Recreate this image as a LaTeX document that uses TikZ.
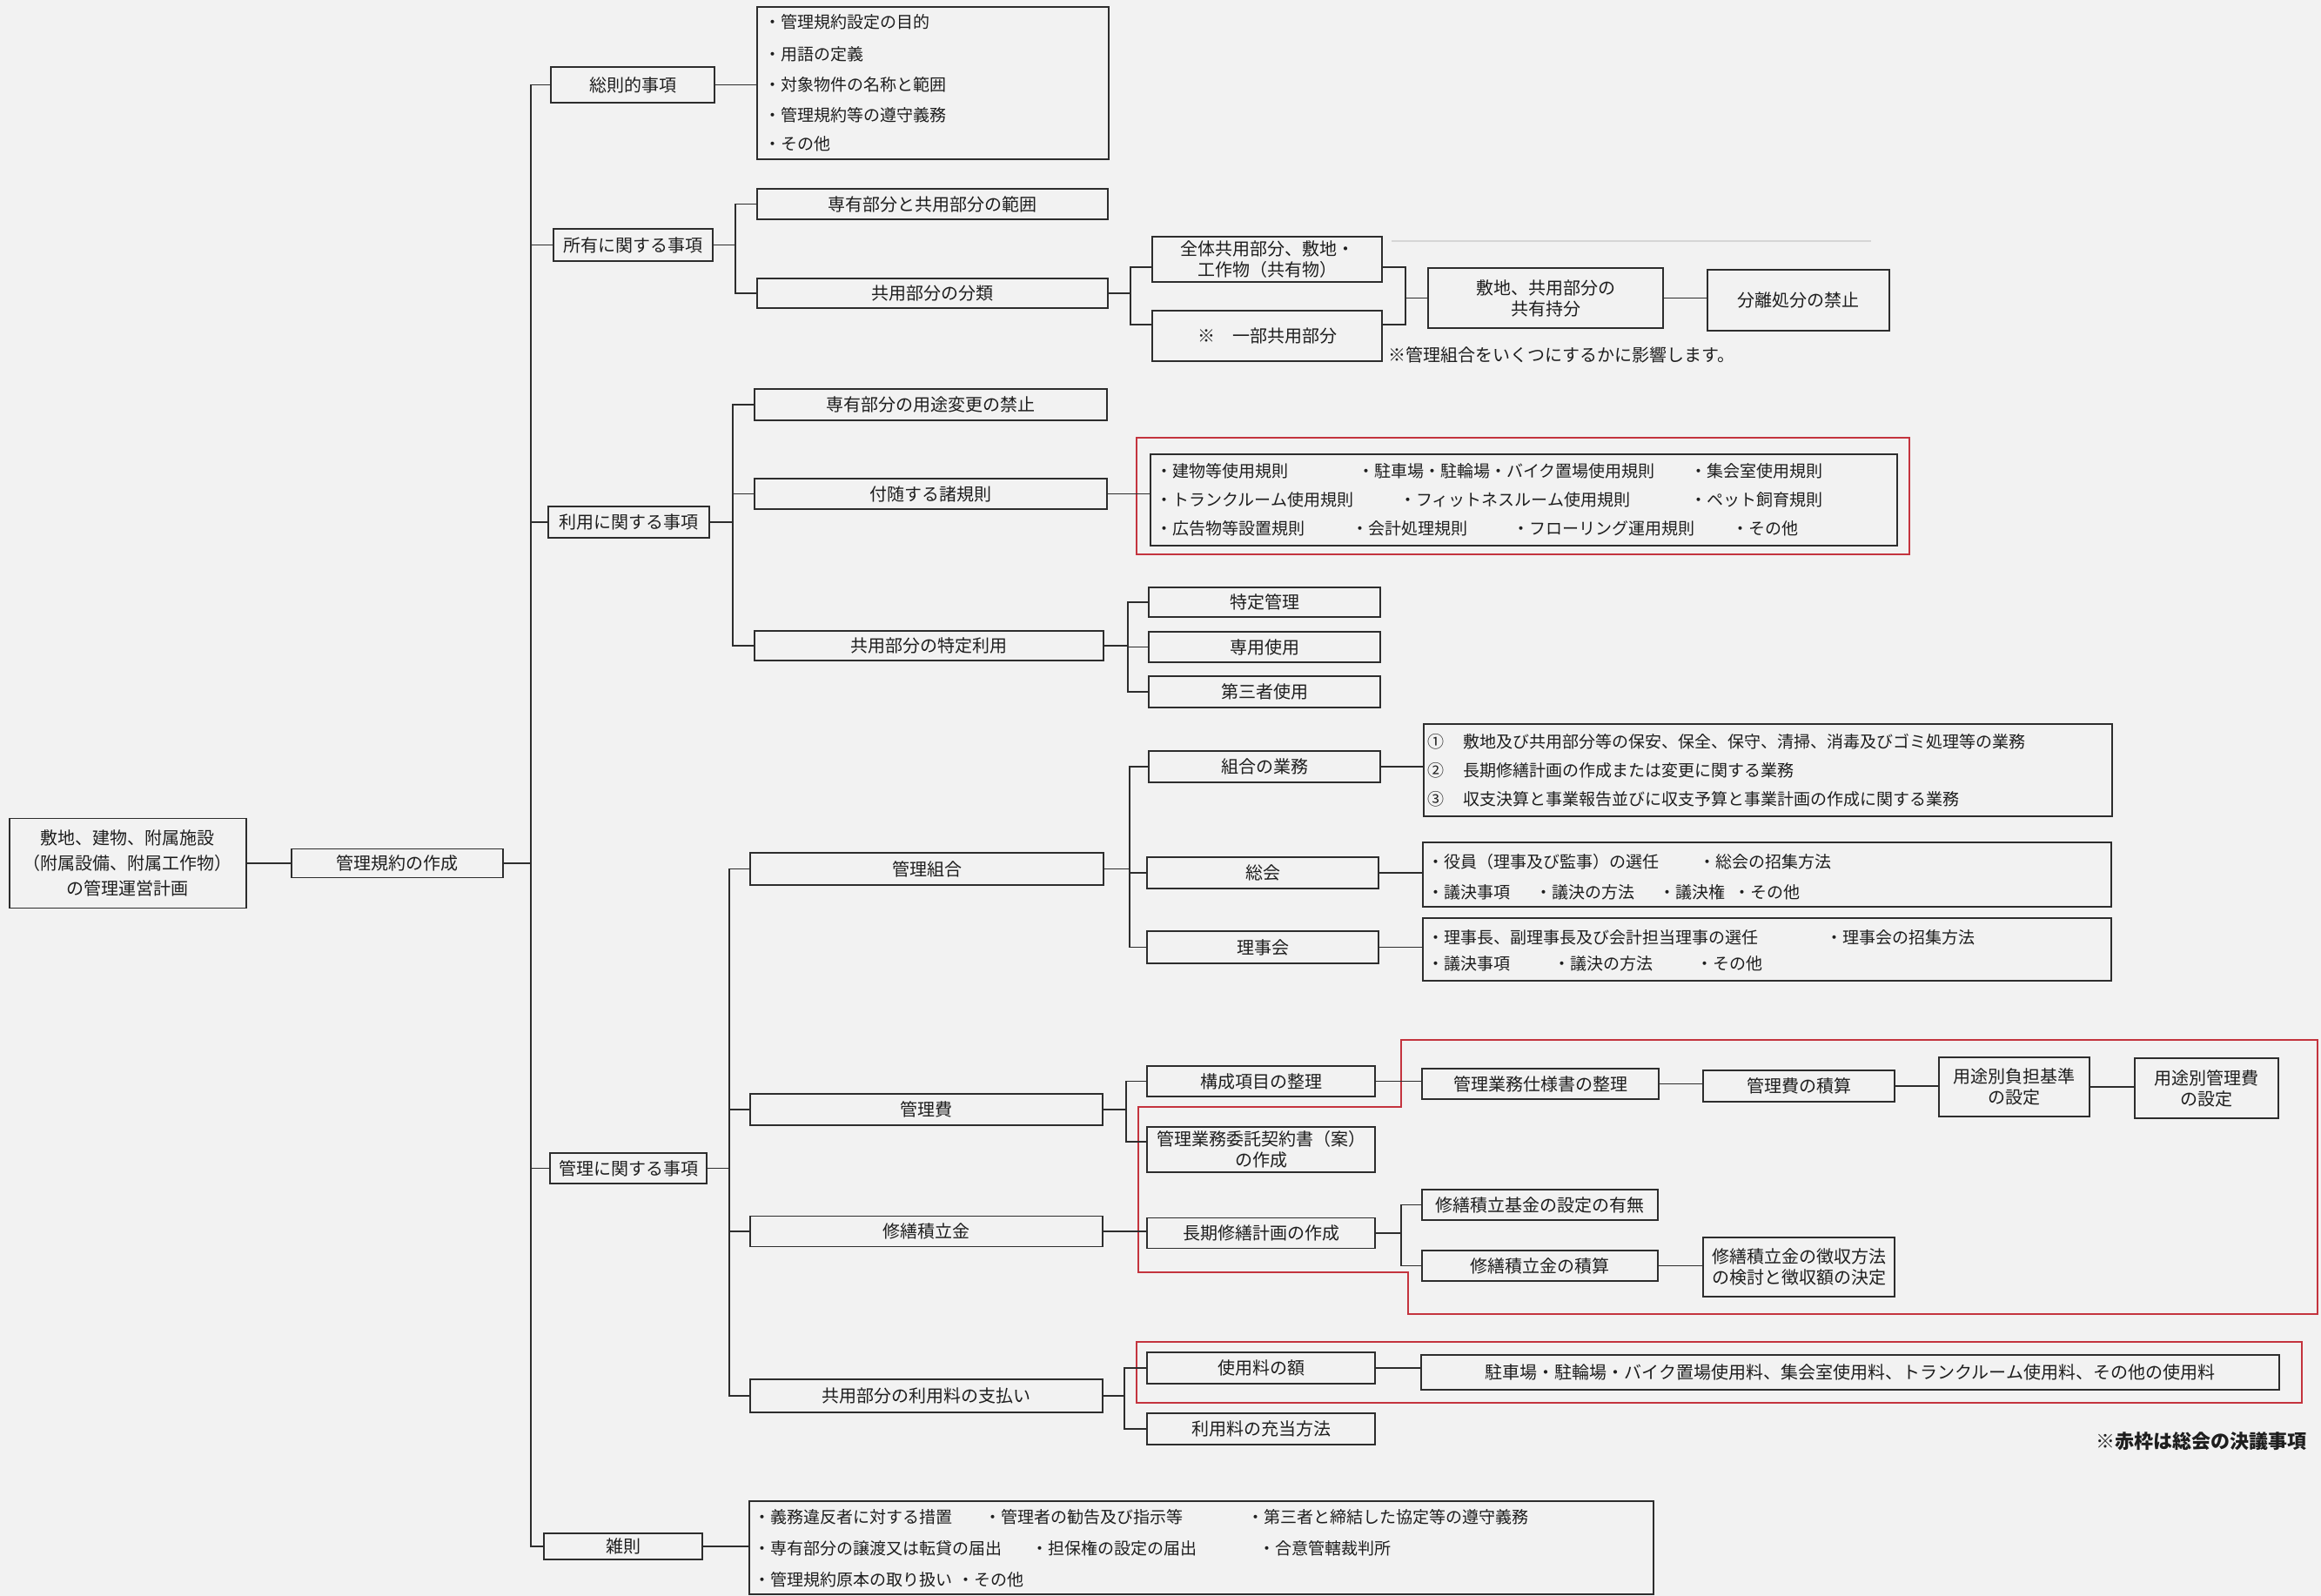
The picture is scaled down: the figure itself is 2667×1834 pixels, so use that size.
\documentclass[tikz,border=0pt]{standalone}
\usepackage{fontspec}
\setmainfont{Noto Sans CJK JP}
\definecolor{bgc}{RGB}{242,242,242}
\definecolor{ink}{RGB}{45,45,45}
\definecolor{txt}{RGB}{30,30,30}
\definecolor{redc}{RGB}{196,52,62}
\definecolor{faint}{RGB}{214,214,214}
\newcommand\lblfont{\fontsize{20pt}{24pt}\selectfont}
\newcommand\lstfont{\fontsize{19pt}{23pt}\selectfont}
\newcommand\rootfont{\fontsize{20pt}{29pt}\selectfont}
\tikzset{
  bx/.style={draw=ink, line width=1.8pt, inner sep=1pt, align=center, font=\lblfont, text=txt},
  bxa/.style={bx, line width=2.6pt},
  lbox/.style={draw=ink, line width=1.8pt, inner sep=0pt},
  li/.style={anchor=west, inner sep=0pt, font=\lstfont, text=txt},
  cn/.style={draw=ink, line width=1.6pt},
  redf/.style={draw=redc, line width=2pt},
  note/.style={inner sep=0pt, text=txt},
}
\begin{document}
\begin{tikzpicture}[x=1pt,y=-1pt]
\fill[bgc] (0,0) rectangle (2667,1834);
\useasboundingbox (0,0) rectangle (2667,1834);

% branch lines of the tree
\coordinate (t0) at (610,0);
\coordinate (b2) at (845,0);
\coordinate (b3) at (1299,0);
\coordinate (b4) at (1615,0);
\coordinate (b5) at (842,0);
\coordinate (b6) at (1296,0);
\coordinate (b7) at (838,0);
\coordinate (b8) at (1298,0);
\coordinate (b9) at (1294,0);
\coordinate (b10) at (1610,0);
\coordinate (b11) at (1292,0);

% faint rule above the common-part boxes
\draw[faint, line width=1.2pt] (1599,277) -- (2150,277);

% red frames: items decided by the general meeting
\draw[redf] (1306,503) rectangle (2194,637);
\draw[redf] (1610,1195) -- (2663,1195) -- (2663,1510) -- (1618,1510) -- (1618,1462)
  -- (1308,1462) -- (1308,1272) -- (1610,1272) -- cycle;
\draw[redf] (1306,1542) rectangle (2645,1612);

% root and first step
\node[bx, font=\rootfont, minimum width=272pt, minimum height=103pt] (root) at (147,992)
  {敷地、建物、附属施設\\（附属設備、附属工作物）\\の管理運営計画};
\node[bx, minimum width=243pt, minimum height=33pt] (A) at (456.5,992) {管理規約の作成};

% level 1
\node[bxa, minimum width=188pt, minimum height=41pt] (s1) at (727,97.5) {総則的事項};
\node[bxa, minimum width=183pt, minimum height=37pt] (s2) at (727.5,281.5) {所有に関する事項};
\node[bxa, minimum width=185pt, minimum height=36pt] (s3) at (722.5,600) {利用に関する事項};
\node[bxa, minimum width=180pt, minimum height=35pt] (s4) at (722,1342.5) {管理に関する事項};
\node[bxa, minimum width=182pt, minimum height=30pt] (s5) at (716,1777) {雑則};

% general provisions
\node[lbox, minimum width=404pt, minimum height=175pt] (s1l) at (1072,95.5) {};
\node[li] (s1a) at (878,25) {・管理規約設定の目的};
\node[li] (s1b) at (878,62) {・用語の定義};
\node[li] (s1c) at (878,97) {・対象物件の名称と範囲};
\node[li] (s1d) at (878,132) {・管理規約等の遵守義務};
\node[li] (s1e) at (878,165) {・その他};

% ownership
\node[bx, minimum width=403pt, minimum height=35pt] (p1) at (1071.5,234.5) {専有部分と共用部分の範囲};
\node[bx, minimum width=403pt, minimum height=34pt] (p2) at (1071.5,337) {共用部分の分類};
\node[bx, minimum width=264pt, minimum height=52pt] (p3) at (1456,298) {全体共用部分、敷地・\\工作物（共有物）};
\node[bx, minimum width=264pt, minimum height=58pt] (p4) at (1456,386) {※　一部共用部分};
\node[bx, minimum width=270pt, minimum height=69pt] (p5) at (1776,342.5) {敷地、共用部分の\\共有持分};
\node[bx, minimum width=209pt, minimum height=70pt] (p6) at (2066.5,345) {分離処分の禁止};
\node[note, anchor=west, font=\lblfont] (n1) at (1595,408) {※管理組合をいくつにするかに影響します。};

% use
\node[bx, minimum width=405pt, minimum height=36pt] (u1) at (1069.5,465) {専有部分の用途変更の禁止};
\node[bx, minimum width=405pt, minimum height=35pt] (u2) at (1069.5,567.5) {付随する諸規則};
\node[bx, minimum width=401pt, minimum height=34pt] (u3) at (1067.5,742) {共用部分の特定利用};
\node[lbox, minimum width=858pt, minimum height=105pt] (u4) at (1751,574.5) {};
\node[li] (u4a) at (1328,541) {・建物等使用規則};
\node[li] (u4b) at (1560,541) {・駐車場・駐輪場・バイク置場使用規則};
\node[li] (u4c) at (1942,541) {・集会室使用規則};
\node[li] (u4d) at (1328,574) {・トランクルーム使用規則};
\node[li] (u4e) at (1608,574) {・フィットネスルーム使用規則};
\node[li] (u4f) at (1942,574) {・ペット飼育規則};
\node[li] (u4g) at (1328,607) {・広告物等設置規則};
\node[li] (u4h) at (1553,607) {・会計処理規則};
\node[li] (u4i) at (1738,607) {・フローリング運用規則};
\node[li] (u4j) at (1990,607) {・その他};
\node[bx, minimum width=266pt, minimum height=34pt] (u5) at (1453,692) {特定管理};
\node[bx, minimum width=266pt, minimum height=35pt] (u6) at (1453,743.5) {専用使用};
\node[bx, minimum width=266pt, minimum height=36pt] (u7) at (1453,795) {第三者使用};

% management
\node[bx, minimum width=406pt, minimum height=37pt] (k1) at (1065,998.5) {管理組合};
\node[bx, minimum width=405pt, minimum height=36pt] (k2) at (1064.5,1275) {管理費};
\node[bx, minimum width=405pt, minimum height=35pt] (k3) at (1064.5,1415) {修繕積立金};
\node[bx, minimum width=405pt, minimum height=38pt] (k4) at (1064.5,1604) {共用部分の利用料の支払い};

\node[bx, minimum width=266pt, minimum height=36pt] (k11) at (1453,881) {組合の業務};
\node[bx, minimum width=266pt, minimum height=36pt] (k12) at (1451,1003) {総会};
\node[bx, minimum width=266pt, minimum height=37pt] (k13) at (1451,1088.5) {理事会};

\node[lbox, minimum width=791pt, minimum height=106pt] (k11l) at (2031.5,885) {};
\node[li] (k11a) at (1640,852) {①\hspace{22pt}敷地及び共用部分等の保安、保全、保守、清掃、消毒及びゴミ処理等の業務};
\node[li] (k11b) at (1640,885) {②\hspace{22pt}長期修繕計画の作成または変更に関する業務};
\node[li] (k11c) at (1640,918) {③\hspace{22pt}収支決算と事業報告並びに収支予算と事業計画の作成に関する業務};

\node[lbox, minimum width=791pt, minimum height=74pt] (k12l) at (2030.5,1005) {};
\node[li] (k12a) at (1640,990) {・役員（理事及び監事）の選任};
\node[li] (k12b) at (1952,990) {・総会の招集方法};
\node[li] (k12c) at (1640,1025) {・議決事項};
\node[li] (k12d) at (1764,1025) {・議決の方法};
\node[li] (k12e) at (1906,1025) {・議決権};
\node[li] (k12f) at (1992,1025) {・その他};

\node[lbox, minimum width=791pt, minimum height=72pt] (k13l) at (2030.5,1091) {};
\node[li] (k13a) at (1640,1077) {・理事長、副理事長及び会計担当理事の選任};
\node[li] (k13b) at (2098,1077) {・理事会の招集方法};
\node[li] (k13c) at (1640,1107) {・議決事項};
\node[li] (k13d) at (1785,1107) {・議決の方法};
\node[li] (k13e) at (1949,1107) {・その他};

\node[bx, minimum width=262pt, minimum height=35pt] (k21) at (1449,1242.5) {構成項目の整理};
\node[bx, minimum width=262pt, minimum height=52pt] (k22) at (1449,1321) {管理業務委託契約書（案）\\の作成};
\node[bx, minimum width=272pt, minimum height=35pt] (k23) at (1770,1245.5) {管理業務仕様書の整理};
\node[bx, minimum width=220pt, minimum height=36pt] (k24) at (2067,1248) {管理費の積算};
\node[bx, minimum width=173pt, minimum height=68pt] (k25) at (2314.5,1249) {用途別負担基準\\の設定};
\node[bx, minimum width=165pt, minimum height=69pt] (k26) at (2535.5,1250.5) {用途別管理費\\の設定};

\node[bx, minimum width=262pt, minimum height=35pt] (k31) at (1449,1417) {長期修繕計画の作成};
\node[bx, minimum width=271pt, minimum height=35pt] (k32) at (1769.5,1384.5) {修繕積立基金の設定の有無};
\node[bx, minimum width=271pt, minimum height=35pt] (k33) at (1769.5,1454.5) {修繕積立金の積算};
\node[bx, minimum width=220pt, minimum height=68pt] (k34) at (2067,1456) {修繕積立金の徴収方法\\の検討と徴収額の決定};

\node[bx, minimum width=262pt, minimum height=36pt] (k41) at (1449,1572) {使用料の額};
\node[bx, minimum width=262pt, minimum height=36pt] (k42) at (1449,1642) {利用料の充当方法};
\node[bx, minimum width=986pt, minimum height=40pt] (k43) at (2126,1577)
  {駐車場・駐輪場・バイク置場使用料、集会室使用料、トランクルーム使用料、その他の使用料};
\node[note, anchor=east, font=\fontsize{22pt}{26pt}\selectfont\bfseries] (n2) at (2651,1656) {※赤枠は総会の決議事項};

% miscellaneous
\node[lbox, minimum width=1039pt, minimum height=107pt] (s5l) at (1380.5,1778.5) {};
\node[li] (s5a) at (866,1743) {・義務違反者に対する措置};
\node[li] (s5b) at (1131,1743) {・管理者の勧告及び指示等};
\node[li] (s5c) at (1433,1743) {・第三者と締結した協定等の遵守義務};
\node[li] (s5d) at (866,1779) {・専有部分の譲渡又は転貸の届出};
\node[li] (s5e) at (1185,1779) {・担保権の設定の届出};
\node[li] (s5f) at (1446,1779) {・合意管轄裁判所};
\node[li] (s5g) at (866,1815) {・管理規約原本の取り扱い};
\node[li] (s5h) at (1100,1815) {・その他};

% connectors
\draw[cn] (root.east) -- (A.west);
\foreach \c in {s1,s2,s3,s4,s5}
  \draw[cn] (A.east) -- (A.east -| t0) |- (\c.west);
\draw[cn] (s1.east) -- (s1.east -| s1l.west);

\draw[cn] (s2.east) -- (s2.east -| b2) |- (p1.west);
\draw[cn] (s2.east) -- (s2.east -| b2) |- (p2.west);
\draw[cn] (p2.east) -- (p2.east -| b3) |- ([yshift=-9pt]p3.west);
\draw[cn] (p2.east) -- (p2.east -| b3) |- ([yshift=13pt]p4.west);
\draw[cn] ([yshift=-9pt]p3.east) -| (b4 |- p5.west) -- (p5.west);
\draw[cn] ([yshift=13pt]p4.east) -| (b4 |- p5.west);
\draw[cn] (p5.east) -- (p5.east -| p6.west);

\draw[cn] (s3.east) -- (s3.east -| b5) |- (u1.west);
\draw[cn] (s3.east) -- (s3.east -| b5) |- (u2.west);
\draw[cn] (s3.east) -- (s3.east -| b5) |- (u3.west);
\draw[cn] (u2.east) -- (u2.east -| u4.west);
\foreach \c in {u5,u6,u7}
  \draw[cn] (u3.east) -- (u3.east -| b6) |- (\c.west);

\foreach \c in {k1,k2,k3,k4}
  \draw[cn] (s4.east) -- (s4.east -| b7) |- (\c.west);
\foreach \c in {k11,k12,k13}
  \draw[cn] (k1.east) -- (k1.east -| b8) |- (\c.west);
\draw[cn] (k11.east) -- (k11.east -| k11l.west);
\draw[cn] (k12.east) -- (k12.east -| k12l.west);
\draw[cn] (k13.east) -- (k13.east -| k13l.west);

\draw[cn] (k2.east) -- (k2.east -| b9) |- (k21.west);
\draw[cn] (k2.east) -- (k2.east -| b9) |- ([yshift=9pt]k22.west);
\draw[cn] (k21.east) -- (k21.east -| k23.west);
\draw[cn] (k23.east) -- (k23.east -| k24.west);
\draw[cn] (k24.east) -- (k24.east -| k25.west);
\draw[cn] (k25.east) -- (k25.east -| k26.west);

\draw[cn] (k3.east) -- (k3.east -| k31.west);
\draw[cn] (k31.east) -- (k31.east -| b10) |- (k32.west);
\draw[cn] (k31.east) -- (k31.east -| b10) |- (k33.west);
\draw[cn] (k33.east) -- (k33.east -| k34.west);

\draw[cn] (k4.east) -- (k4.east -| b11) |- (k41.west);
\draw[cn] (k4.east) -- (k4.east -| b11) |- (k42.west);
\draw[cn] (k41.east) -- (k41.east -| k43.west);

\draw[cn] (s5.east) -- (s5.east -| s5l.west);
\end{tikzpicture}
\end{document}
